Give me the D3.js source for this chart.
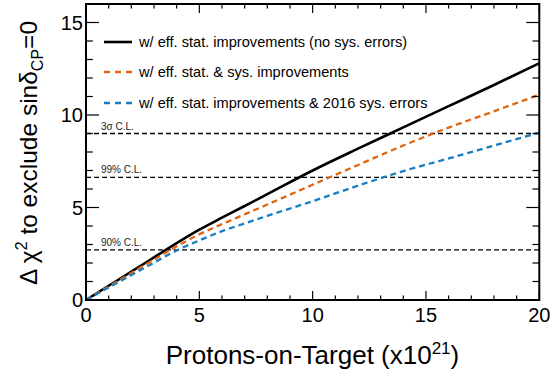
<!DOCTYPE html>
<html>
<head>
<meta charset="utf-8">
<script src="https://cdn.jsdelivr.net/npm/d3@7"></script>
<style>
  html, body { margin: 0; padding: 0; background: #fff; }
  svg { display: block; font-family: "Liberation Sans", Arial, sans-serif; }
</style>
</head>
<body>
<svg id="chart" width="550" height="374"></svg>
<script>
// ---- data ----
const pot = [0, 1, 2, 3, 4, 5, 6, 7, 8, 10, 12, 14, 16, 18, 20];
const noSys = [0, 0.77, 1.53, 2.3, 3.07, 3.8, 4.45, 5.08, 5.72, 7.0, 8.18, 9.33, 10.48, 11.62, 12.8];
const statSys = [0, 0.73, 1.46, 2.18, 2.9, 3.55, 4.1, 4.63, 5.16, 6.23, 7.3, 8.35, 9.32, 10.2, 11.1];
const sys2016 = [0, 0.68, 1.35, 2.02, 2.68, 3.22, 3.72, 4.14, 4.55, 5.34, 6.18, 6.97, 7.65, 8.35, 9.05];
const seriesNames = [
  "w/ eff. stat. improvements (no sys. errors)",
  "w/ eff. stat. & sys. improvements",
  "w/ eff. stat. improvements & 2016 sys. errors"
];
const clValues = [2.71, 6.63, 9.0];
const clLabels = ["90% C.L.", "99% C.L.", "3\u03c3 C.L."];
const xTicks = [0, 5, 10, 15, 20];
const yTicks = [0, 5, 10, 15];

// ---- layout ----
const svg = d3.select("#chart");
const L = 86, R = 539.3, T = 4, B = 300;
const x = d3.scaleLinear().domain([0, 20]).range([L, R]);
const y = d3.scaleLinear().domain([0, 16]).range([B, T]);

const styles = [
  { color: "#000000", width: 2.6, dash: null },
  { color: "#e2650f", width: 2.3, dash: "6,4" },
  { color: "#1a7dc0", width: 2.3, dash: "6,4" }
];
const seriesData = [noSys, statSys, sys2016];

svg.append("defs").append("clipPath").attr("id", "clip")
  .append("rect").attr("x", L).attr("y", T).attr("width", R - L).attr("height", B - T);

// C.L. lines
const plot = svg.append("g").attr("clip-path", "url(#clip)");
clValues.forEach((v, i) => {
  plot.append("line")
    .attr("x1", L).attr("x2", R)
    .attr("y1", y(v)).attr("y2", y(v))
    .attr("stroke", "#000").attr("stroke-width", 1.3)
    .attr("stroke-dasharray", "5,3");
  svg.append("text")
    .attr("x", L + 15).attr("y", y(v) - 4)
    .attr("font-size", 10).attr("fill", "#222")
    .text(clLabels[i]);
});

// curves
const line = d3.line().x((d, i) => x(pot[i])).y(d => y(d)).curve(d3.curveMonotoneX);
seriesData.forEach((s, k) => {
  const p = plot.append("path").datum(s)
    .attr("d", line)
    .attr("fill", "none")
    .attr("stroke", styles[k].color)
    .attr("stroke-width", styles[k].width);
  if (styles[k].dash) p.attr("stroke-dasharray", styles[k].dash);
});

// legend
const legY = [42, 72, 103];
seriesNames.forEach((name, k) => {
  const l = svg.append("line")
    .attr("x1", 104).attr("x2", 132)
    .attr("y1", legY[k]).attr("y2", legY[k])
    .attr("stroke", styles[k].color).attr("stroke-width", styles[k].width);
  if (styles[k].dash) l.attr("stroke-dasharray", "6,5");
  svg.append("text")
    .attr("x", 139).attr("y", legY[k])
    .attr("dy", "0.35em")
    .attr("font-size", 14.6).attr("fill", "#000")
    .text(name);
});

// axes ticks
const ax = svg.append("g").attr("stroke", "#000").attr("stroke-width", 1.2);
const xMinor = d3.range(0, 21, 1);
const yMinor = d3.range(0, 17, 1);
const xMajLen = 9, xMinLen = 4.5, yMajLen = 13, yMinLen = 6.8;
xMinor.forEach(v => {
  const len = (v % 5 === 0) ? xMajLen : xMinLen;
  ax.append("line").attr("x1", x(v)).attr("x2", x(v)).attr("y1", B).attr("y2", B - len);
  ax.append("line").attr("x1", x(v)).attr("x2", x(v)).attr("y1", T).attr("y2", T + len);
});
yMinor.forEach(v => {
  const len = (v % 5 === 0) ? yMajLen : yMinLen;
  ax.append("line").attr("y1", y(v)).attr("y2", y(v)).attr("x1", L).attr("x2", L + len);
  ax.append("line").attr("y1", y(v)).attr("y2", y(v)).attr("x1", R).attr("x2", R - len);
});

// frame
svg.append("rect").attr("x", L).attr("y", T).attr("width", R - L).attr("height", B - T)
  .attr("fill", "none").attr("stroke", "#000").attr("stroke-width", 2);

// tick labels
xTicks.forEach(v => {
  svg.append("text").attr("x", x(v)).attr("y", 322)
    .attr("text-anchor", "middle").attr("font-size", 20).text(v);
});
yTicks.forEach(v => {
  svg.append("text").attr("x", 83).attr("y", y(v)).attr("dy", "0.36em")
    .attr("text-anchor", "end").attr("font-size", 20).text(v);
});

// axis titles
const xt = svg.append("text").attr("x", 312.5).attr("y", 364)
  .attr("text-anchor", "middle").attr("font-size", 26);
xt.append("tspan").text("Protons-on-Target (x10");
xt.append("tspan").attr("dy", -10).attr("font-size", 17).text("21");
xt.append("tspan").attr("dy", 10).text(")");

const yt = svg.append("text")
  .attr("transform", "translate(37," + 153 + ") rotate(-90)")
  .attr("text-anchor", "middle").attr("font-size", 24.5);
yt.append("tspan").text("\u0394 \u03c7");
yt.append("tspan").attr("dy", -10).attr("font-size", 16).text("2");
yt.append("tspan").attr("dy", 10).text(" to exclude sin\u03b4");
yt.append("tspan").attr("dy", 6).attr("font-size", 16).text("CP");
yt.append("tspan").attr("dy", -6).text("=0");
</script>
</body>
</html>
